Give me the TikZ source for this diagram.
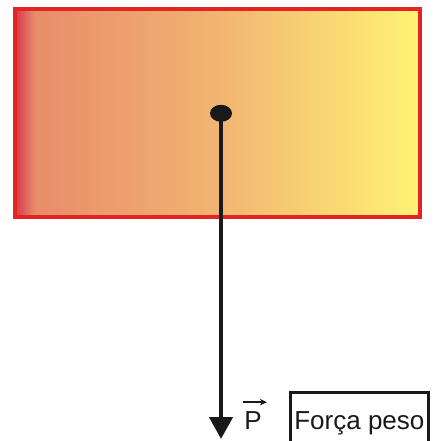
\documentclass[tikz,border=0pt]{standalone}
\usepackage{fontspec}
\setmainfont{Liberation Sans}
\usetikzlibrary{arrows.meta, positioning, shapes.geometric}
\definecolor{edgecol}{RGB}{226,36,36}
\definecolor{blockred}{RGB}{214,55,82}
\definecolor{blocksalmon}{RGB}{233,140,106}
\definecolor{blockorange}{RGB}{242,180,114}
\definecolor{blockyellow}{RGB}{255,243,116}
\pgfdeclarehorizontalshading{blockfill}{100bp}{color(0bp)=(blockred);
  color(25bp)=(blockred); color(27.5bp)=(blocksalmon);
  color(50bp)=(blockorange); color(75bp)=(blockyellow);
  color(100bp)=(blockyellow)}

\begin{document}
\begin{tikzpicture}[
  x=1pt, y=-1pt,
  font=\fontsize{26}{30}\selectfont,
  block/.style={draw=edgecol, line width=4pt, shading=blockfill,
                minimum width=404.8pt, minimum height=208pt, inner sep=0pt},
  cgdot/.style={ellipse, fill=black!90, minimum width=22pt,
                minimum height=17pt, inner sep=0pt},
  weight/.style={-{Triangle[length=22pt, width=23pt]}, line width=4.3pt,
                 black!90},
  vlabel/.style={inner sep=0pt, text=black!90},
  vecarr/.style={-{Stealth[length=7pt, width=6.5pt]}, line width=1.5pt,
                 black!90},
  namebox/.style={draw=black!90, line width=3pt, minimum width=138pt,
                  minimum height=62pt, inner sep=0pt, text=black!90}
]
  \useasboundingbox (0,0) rectangle (435,441);

  \node[block] (block) at (217.1,113) {};
  \node[cgdot] (cg) at (221,113.3) {};
  \coordinate (tip) at (221,439);
  \draw[weight] (cg.center) -- (tip);

  \node[vlabel] (vecP) at (253,420.3) {P};
  \draw[vecarr] ([xshift=-1pt, yshift=9pt]vecP.north west)
    -- ([xshift=5pt, yshift=9pt]vecP.north east);

  \node[namebox, right=27pt of vecP, yshift=-3pt] (peso) {Força peso};
\end{tikzpicture}
\end{document}
